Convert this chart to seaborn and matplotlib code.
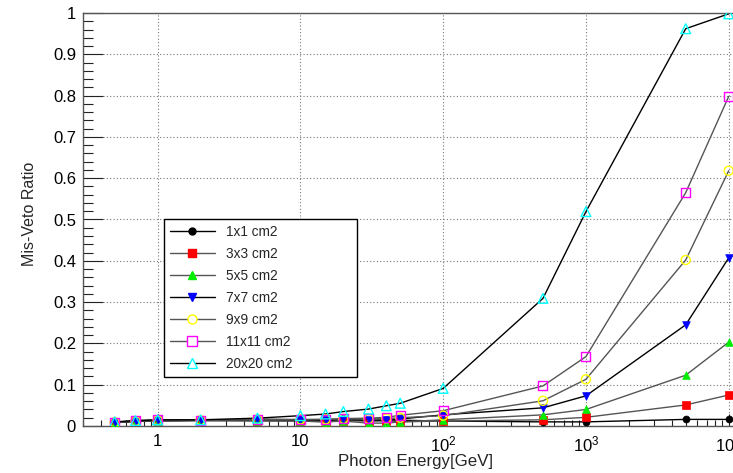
import numpy as np
import pandas as pd
import matplotlib
matplotlib.use("Agg")
import matplotlib.pyplot as plt
import seaborn as sns
from matplotlib.lines import Line2D
from matplotlib.ticker import LogLocator, MultipleLocator, FixedLocator, FixedFormatter, NullFormatter

# ---------------- data ----------------
energy = [0.5, 0.7, 1, 2, 5, 10, 15, 20, 30, 40, 50, 100, 500, 1000, 5000, 10000]
labels = ["1x1 cm2", "3x3 cm2", "5x5 cm2", "7x7 cm2", "9x9 cm2", "11x11 cm2", "20x20 cm2"]
r1x1 = [0.008, 0.011, 0.012, 0.014, 0.014, 0.013, 0.013, 0.015, 0.013, 0.014, 0.014, 0.012, 0.010, 0.010, 0.016, 0.016]
r3x3 = [0.008, 0.011, 0.012, 0.013, 0.013, 0.012, 0.010, 0.013, 0.012, 0.012, 0.010, 0.012, 0.015, 0.021, 0.051, 0.075]
r5x5 = [0.008, 0.011, 0.012, 0.013, 0.012, 0.012, 0.010, 0.012, 0.007, 0.007, 0.010, 0.015, 0.027, 0.040, 0.123, 0.203]
r7x7 = [0.009, 0.012, 0.014, 0.014, 0.016, 0.015, 0.015, 0.016, 0.014, 0.015, 0.017, 0.027, 0.044, 0.073, 0.245, 0.407]
r9x9 = [0.009, 0.012, 0.014, 0.014, 0.016, 0.016, 0.016, 0.017, 0.017, 0.018, 0.020, 0.025, 0.061, 0.113, 0.402, 0.618]
r11x11 = [0.009, 0.013, 0.015, 0.014, 0.016, 0.015, 0.016, 0.018, 0.019, 0.021, 0.026, 0.037, 0.097, 0.168, 0.565, 0.798]
r20x20 = [0.010, 0.013, 0.015, 0.015, 0.019, 0.025, 0.029, 0.035, 0.041, 0.049, 0.055, 0.091, 0.309, 0.519, 0.962, 0.998]
series = [r1x1, r3x3, r5x5, r7x7, r9x9, r11x11, r20x20]
xtick_vals = [1, 10, 100, 1000, 10000]
xtick_labels = ["1", "10", r"$10^{2}$", r"$10^{3}$", r"$10^{4}$"]
ytick_vals = [0, 0.1, 0.2, 0.3, 0.4, 0.5, 0.6, 0.7, 0.8, 0.9, 1.0]
ytick_labels = ["0", "0.1", "0.2", "0.3", "0.4", "0.5", "0.6", "0.7", "0.8", "0.9", "1"]

# ---------------- styles ----------------
markers = ["o", "s", "^", "v", "o", "s", "^"]
colors = ["#000000", "#ff0000", "#00ee00", "#0000ff", "#ffff00", "#ff00ff", "#00ffff"]
filled = [True, True, True, True, False, False, False]
msize = [5.0, 5.5, 5.5, 5.5, 6.5, 6.5, 7.0]
linecols = ["#000000", "#555555", "#555555", "#000000", "#555555", "#555555", "#000000"]

df = pd.concat([pd.DataFrame({"energy": energy, "ratio": s, "size": lab})
                for s, lab in zip(series, labels)], ignore_index=True)

sns.set_theme(style="white")
plt.rcParams["font.family"] = ["Liberation Sans", "DejaVu Sans"]
plt.rcParams["mathtext.fontset"] = "custom"
plt.rcParams["mathtext.rm"] = "Liberation Sans"
plt.rcParams["mathtext.it"] = "Liberation Sans"

W, H = 733, 473
fig = plt.figure(figsize=(W / 100, H / 100), dpi=100)
fig.patch.set_facecolor("white")
left, right, top, bottom = 83, 740, 13, 426
ax = fig.add_axes([left / W, 1 - bottom / H, (right - left) / W, (bottom - top) / H])
ax.set_facecolor("white")

for i, lab in enumerate(labels):
    sub = df[df["size"] == lab]
    sns.lineplot(data=sub, x="energy", y="ratio", color=linecols[i], lw=1.0,
                 ax=ax, legend=False, zorder=2, estimator=None, sort=False)
for i, lab in enumerate(labels):
    sub = df[df["size"] == lab]
    if filled[i]:
        sns.scatterplot(data=sub, x="energy", y="ratio", marker=markers[i], s=msize[i] ** 2,
                        color=colors[i], edgecolor=colors[i], linewidth=0.5,
                        ax=ax, legend=False, zorder=3)
    else:
        sns.scatterplot(data=sub, x="energy", y="ratio", marker=markers[i], s=msize[i] ** 2,
                        facecolor="none", edgecolor=colors[i], linewidth=1.0,
                        ax=ax, legend=False, zorder=3)

ax.set_xscale("log")
ax.set_xlim(0.3, 12000)
ax.set_ylim(0, 1)

ax.xaxis.set_major_locator(FixedLocator(xtick_vals))
ax.xaxis.set_major_formatter(FixedFormatter(xtick_labels))
ax.xaxis.set_minor_locator(LogLocator(base=10, subs=np.arange(2, 10), numticks=20))
ax.xaxis.set_minor_formatter(NullFormatter())
ax.yaxis.set_major_locator(FixedLocator(ytick_vals))
ax.yaxis.set_major_formatter(FixedFormatter(ytick_labels))
ax.yaxis.set_minor_locator(MultipleLocator(0.02))

ax.tick_params(axis="x", which="major", direction="in", length=8.6, width=0.8, color="#222222",
               labelsize=12, pad=6, top=False, bottom=True, labelcolor="black")
ax.tick_params(axis="x", which="minor", direction="in", length=4.3, width=0.8, color="#222222",
               top=False, bottom=True)
ax.tick_params(axis="y", which="major", direction="in", length=14.4, width=0.8, color="#222222",
               labelsize=12, pad=5, left=True, right=False, labelcolor="black")
ax.tick_params(axis="y", which="minor", direction="in", length=7.2, width=0.8, color="#222222",
               left=True, right=False)

ax.grid(True, which="major", linestyle=(0, (1, 2)), color="#777777", linewidth=0.8)
for sp in ax.spines.values():
    sp.set_color("#555555")
    sp.set_linewidth(1.0)

ax.set_xlabel("")
ax.set_ylabel("")
fig.text(30 / W, 1 - 214 / H, "Mis-Veto Ratio", rotation=90, ha="center", va="center", fontsize=11.5)
fig.text(416 / W, 1 - 461 / H, "Photon Energy[GeV]", ha="center", va="center", fontsize=12.2)

handles = []
for i, lab in enumerate(labels):
    if filled[i]:
        h = Line2D([], [], color=linecols[i], lw=1.0, marker=markers[i], markersize=msize[i],
                   markerfacecolor=colors[i], markeredgecolor=colors[i])
    else:
        h = Line2D([], [], color=linecols[i], lw=1.0, marker=markers[i], markersize=msize[i],
                   markerfacecolor="white", markeredgecolor=colors[i], markeredgewidth=1.0)
    handles.append(h)

leg = fig.legend(handles, labels, loc="upper left",
                 bbox_to_anchor=(164 / W, 1 - 219 / H, (357 - 164) / W, 0.0001),
                 mode="expand", fontsize=9.8, frameon=True, fancybox=False,
                 edgecolor="black", framealpha=1, handlelength=3.3, handletextpad=0.8,
                 labelspacing=0.59, borderpad=0.42, borderaxespad=0)
leg.get_frame().set_linewidth(1.0)
leg.set_zorder(10)

fig.savefig("out.png", dpi=100, facecolor="white")
